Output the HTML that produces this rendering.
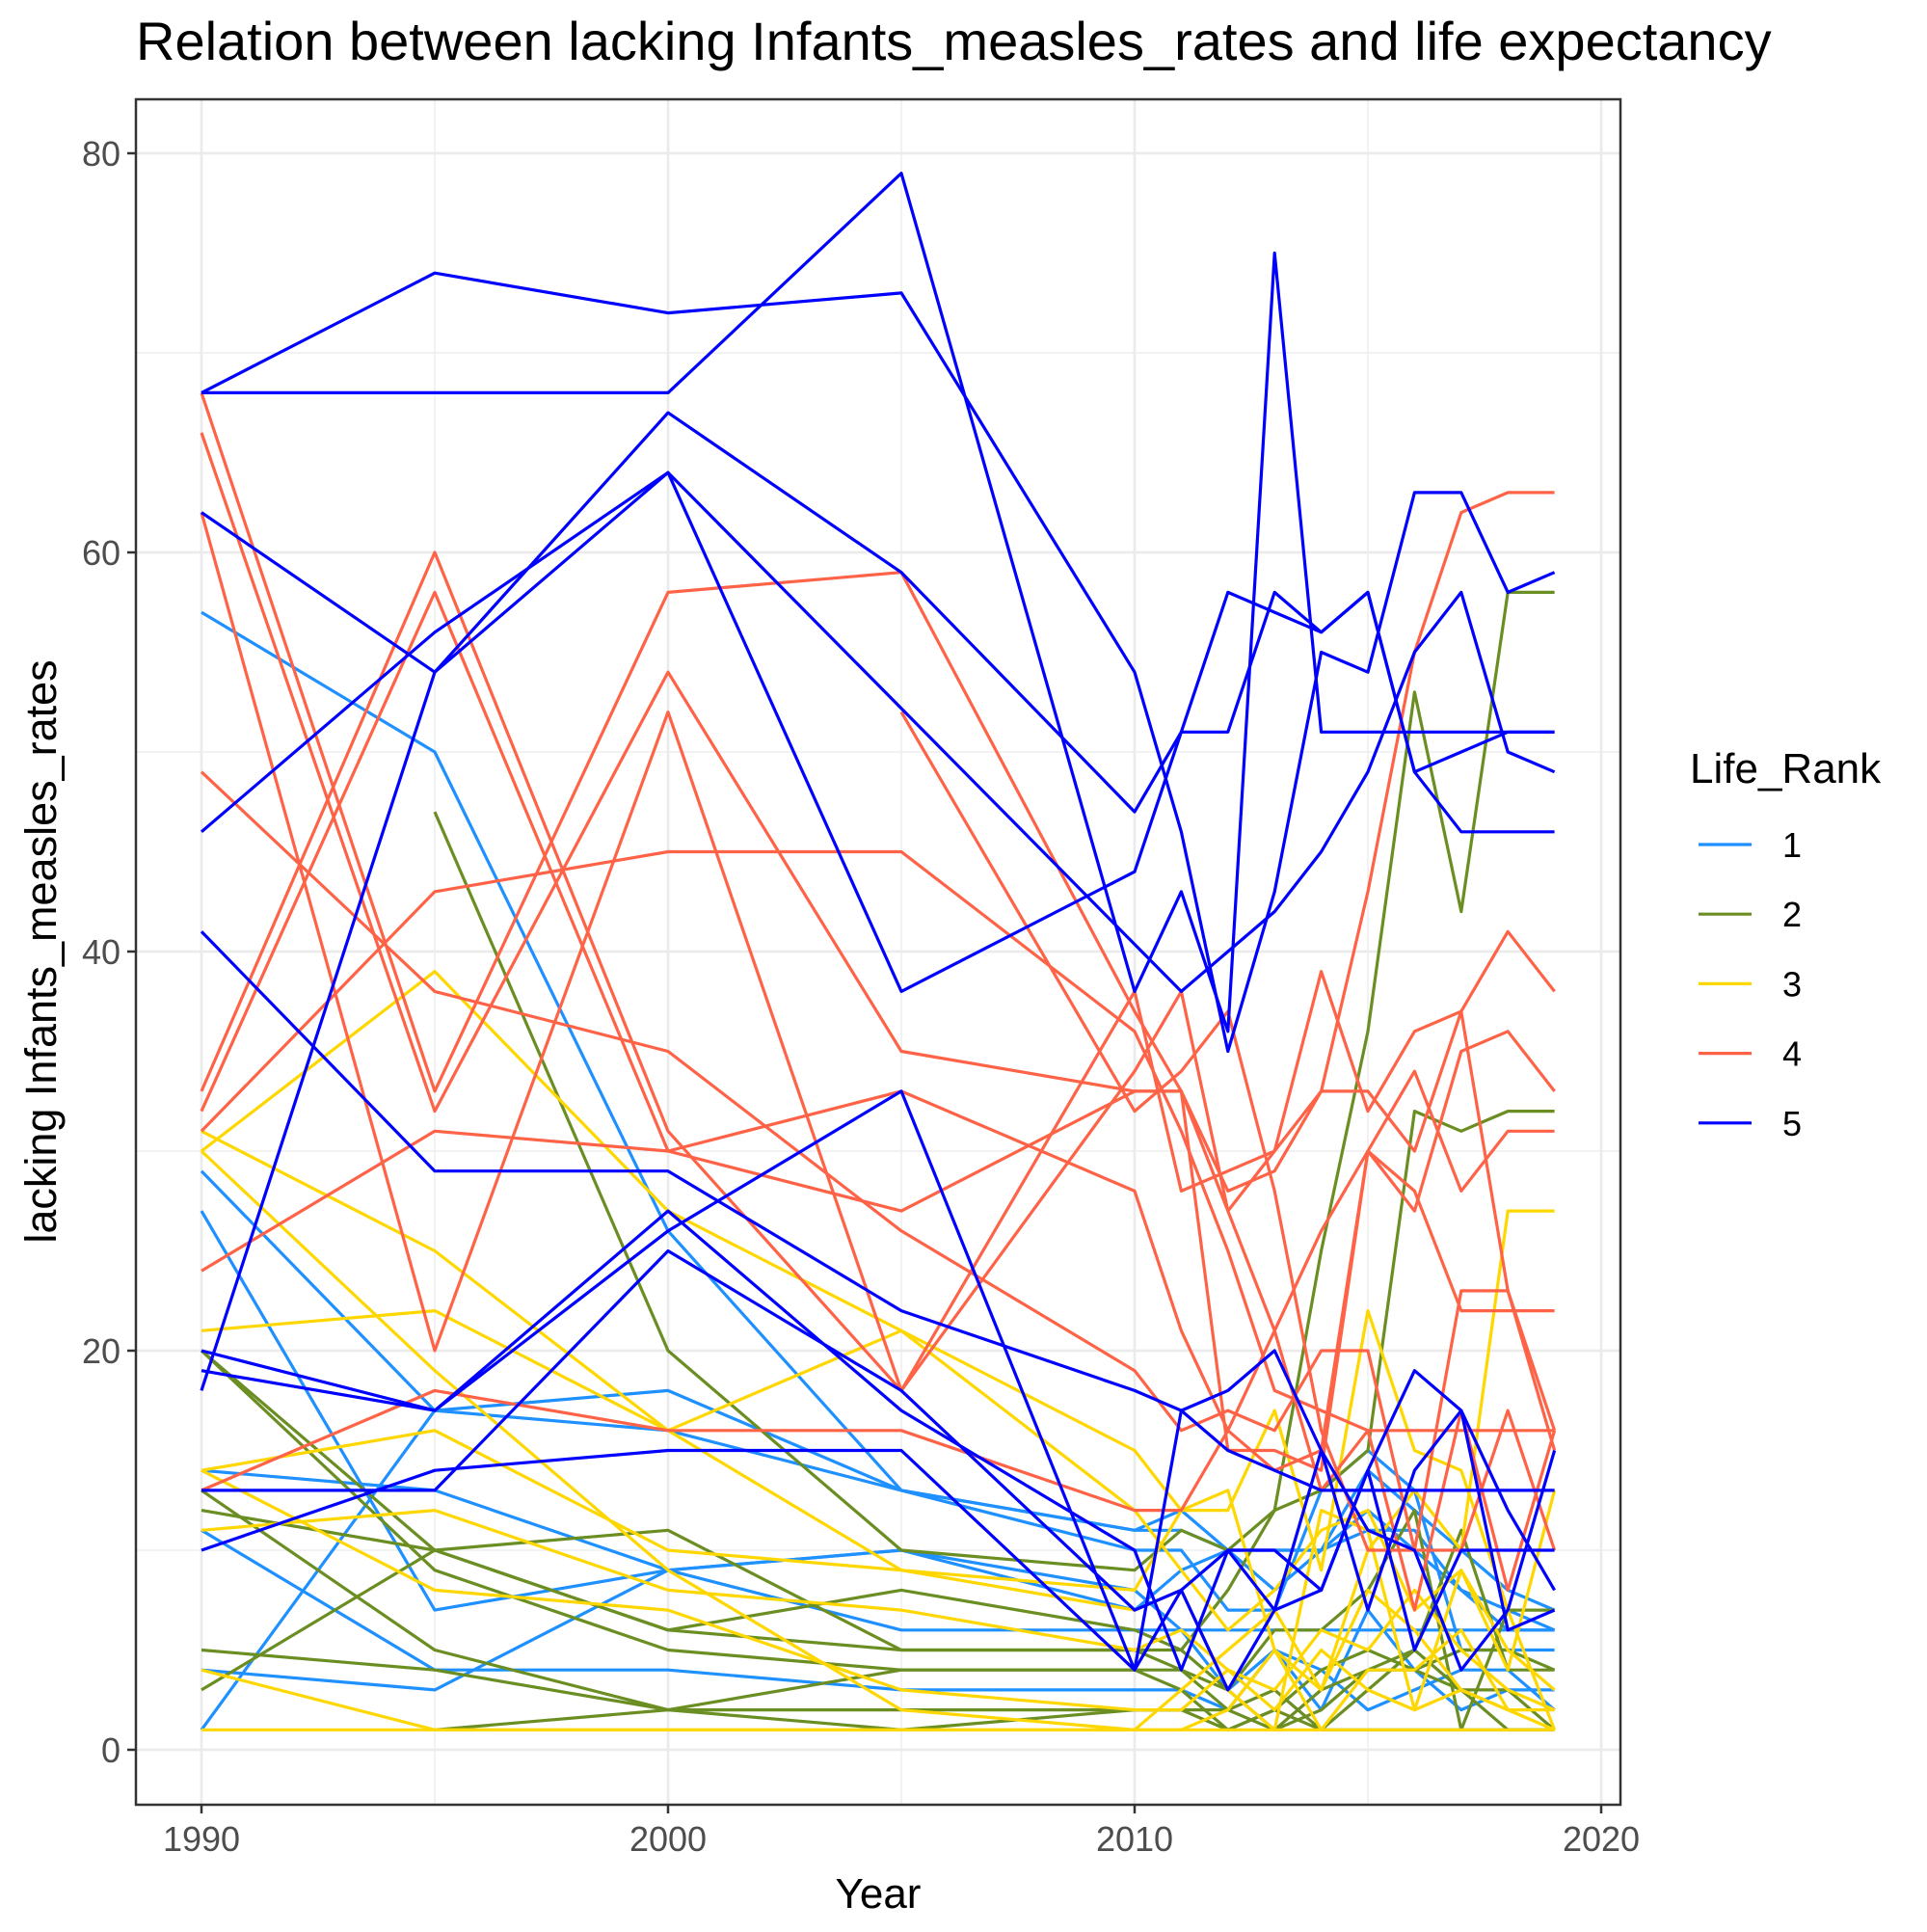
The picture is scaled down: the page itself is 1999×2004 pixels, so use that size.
<!DOCTYPE html>
<html><head><meta charset="utf-8"><style>
html,body{margin:0;padding:0;background:#fff}
svg text{font-family:"Liberation Sans",Arial,sans-serif}
</style></head><body>
<svg id="chart" width="1999" height="1999" viewBox="0 0 1999 1999" xmlns="http://www.w3.org/2000/svg">
<rect width="1999" height="1999" fill="#fff"/>
<text x="141" y="62" font-size="56" fill="#000">Relation between lacking Infants_measles_rates and life expectancy</text>
<g id="grid"></g>
<g id="series"></g>
<rect x="141" y="103" width="1540" height="1769" fill="none" stroke="#333" stroke-width="2.5"/>
<g id="axes"></g>
<text x="911" y="1979" font-size="44" text-anchor="middle">Year</text>
<text transform="translate(58,987) rotate(-90)" font-size="45" text-anchor="middle">lacking Infants_measles_rates</text>
<g id="legend"></g>
</svg>
<script>
const years=[1990,1995,2000,2005,2010,2011,2012,2013,2014,2015,2016,2017,2018,2019];
const xTicks=[1990,2000,2010,2020];
const yTicks=[0,20,40,60,80];
const ranks=["1","2","3","4","5"];
const colors=["#1E90FF","#6B8E23","#FFD700","#FF6347","#0000FF"];
const rank1=[
[57,50,26,13,11,12,10,10,10,11,11,8,6,6],
[29,17,18,13,10,10,7,7,13,15,13,5,5,5],
[27,7,9,10,8,6,3,5,2,7,4,2,3,3],
[14,13,9,6,6,6,6,6,6,6,6,6,6,6],
[11,4,4,3,3,3,2,5,4,2,3,4,4,2],
[4,3,9,10,7,9,10,10,10,12,10,8,7,6],
[1,17,16,13,11,11,10,8,10,14,12,10,8,7]
];
const rank2=[
[null,47,20,10,9,11,10,12,25,36,53,42,58,58],
[20,10,6,8,6,5,8,12,13,15,32,31,32,32],
[12,10,11,5,5,5,3,6,6,8,12,1,7,7],
[13,5,2,2,2,2,1,2,1,1,1,1,1,1],
[5,4,2,1,2,2,2,1,3,4,5,11,4,4],
[3,10,6,5,5,4,3,1,2,4,4,5,5,4],
[null,1,2,4,4,4,2,3,1,3,5,3,1,1],
[20,9,5,4,4,3,1,2,4,5,4,3,3,1]
];
const rank3=[
[31,25,16,21,15,12,12,17,9,22,15,14,7,1],
[30,39,27,21,12,9,6,8,11,12,7,9,5,3],
[21,22,16,9,8,12,13,5,3,10,13,10,27,27],
[14,16,10,9,7,8,3,1,12,11,2,9,4,13],
[11,12,8,7,5,6,4,3,6,5,8,5,3,2],
[4,1,1,1,1,1,1,1,1,1,1,1,1,1],
[1,1,1,1,1,1,2,5,1,4,4,6,2,1],
[30,19,9,2,1,3,5,7,3,8,6,3,2,1],
[14,8,7,3,2,2,4,2,5,3,2,3,2,2]
];
const rank4=[
[68,33,58,59,37,33,28,29,33,33,30,37,23,16],
[66,32,54,35,33,33,27,30,39,32,36,37,41,38],
[62,20,52,18,38,28,29,30,33,43,55,62,63,63],
[49,38,35,26,19,16,17,16,20,20,10,10,17,10],
[33,60,31,18,34,38,27,21,13,16,7,17,8,16],
[32,58,30,27,33,33,15,15,14,30,28,22,22,22],
[31,43,45,45,36,31,25,18,17,16,16,16,16,16],
[24,31,30,33,28,21,16,14,15,30,34,28,31,31],
[13,18,16,16,12,12,16,21,26,30,27,35,36,33],
[null,null,null,52,32,34,37,28,16,10,10,23,23,15]
];
const rank5=[
[68,74,72,73,54,46,35,43,55,54,63,63,58,59],
[68,null,68,79,38,43,36,75,51,51,51,51,51,51],
[62,54,67,59,47,51,51,58,56,58,49,50,51,51],
[46,56,64,38,44,51,58,57,56,58,49,46,46,46],
[18,54,64,null,null,38,40,42,45,49,55,58,50,49],
[41,29,29,22,18,17,18,20,15,7,14,17,12,8],
[19,17,26,33,4,17,15,14,13,13,13,13,13,13],
[10,14,15,15,4,8,10,10,8,14,5,10,10,10],
[20,17,27,17,10,4,10,7,8,14,19,17,6,7],
[13,13,25,18,7,8,3,7,15,11,10,4,7,15]
];
const groups=[rank1,rank2,rank3,rank4,rank5];
const NS="http://www.w3.org/2000/svg";
const L=141,R=1681,T=103,B=1872;
function xs(v){return 209+(v-1990)*(1661-209)/30;}
function ys(v){return 1815-v*(1815-159)/80;}
function mk(tag,attrs,parent){const e=document.createElementNS(NS,tag);for(const k in attrs)e.setAttribute(k,attrs[k]);parent.appendChild(e);return e;}
const grid=document.getElementById('grid');
mk('rect',{x:L,y:T,width:R-L,height:B-T,fill:'#fff'},grid);
for(let i=0;i<yTicks.length-1;i++){const l=mk('line',{x1:L,x2:R,y1:ys((yTicks[i]+yTicks[i+1])/2),y2:ys((yTicks[i]+yTicks[i+1])/2),stroke:'#ebebeb','stroke-width':1.3},grid);

}
for(let i=0;i<xTicks.length-1;i++){const l=mk('line',{y1:T,y2:B,x1:xs((xTicks[i]+xTicks[i+1])/2),x2:xs((xTicks[i]+xTicks[i+1])/2),stroke:'#ebebeb','stroke-width':1.3},grid);

}
yTicks.forEach(v=>{const l=mk('line',{x1:L,x2:R,y1:ys(v),y2:ys(v),stroke:'#ebebeb','stroke-width':2.7},grid);

});
xTicks.forEach(v=>{const l=mk('line',{y1:T,y2:B,x1:xs(v),x2:xs(v),stroke:'#ebebeb','stroke-width':2.7},grid);

});
const sg=document.getElementById('series');
groups.forEach((g,gi)=>{g.forEach((s,si)=>{
 let d='';let pen=false;
 s.forEach((v,i)=>{if(v===null){return;}d+=(pen?'L':'M')+xs(years[i]).toFixed(1)+','+ys(v).toFixed(1);pen=true;});
 const p=mk('path',{d:d,fill:'none',stroke:colors[gi],'stroke-width':3.2,'stroke-linejoin':'round'},sg);
 
 
});});
const ax=document.getElementById('axes');
yTicks.forEach(v=>{const t=mk('line',{x1:L-9,x2:L,y1:ys(v),y2:ys(v),stroke:'#333','stroke-width':2.5},ax);


const tx=mk('text',{x:L-16,y:ys(v)+13,'font-size':36,fill:'#4d4d4d','text-anchor':'end'},ax);tx.textContent=v;

});
xTicks.forEach(v=>{const t=mk('line',{y1:B,y2:B+9,x1:xs(v),x2:xs(v),stroke:'#333','stroke-width':2.5},ax);


const tx=mk('text',{x:xs(v),y:B+48,'font-size':36,fill:'#4d4d4d','text-anchor':'middle'},ax);tx.textContent=v;

});
const lg=document.getElementById('legend');
const lt=mk('text',{x:1753,y:812,'font-size':44,fill:'#000'},lg);lt.textContent='Life_Rank';


ranks.forEach((r,i)=>{const y=876+i*72.2;
 const k=mk('line',{x1:1762,x2:1817,y1:y,y2:y,stroke:colors[i],'stroke-width':3.2},lg);
 
 
 const t=mk('text',{x:1849,y:y+13,'font-size':36,fill:'#000'},lg);t.textContent=r;
 
 });
</script>
</body></html>
